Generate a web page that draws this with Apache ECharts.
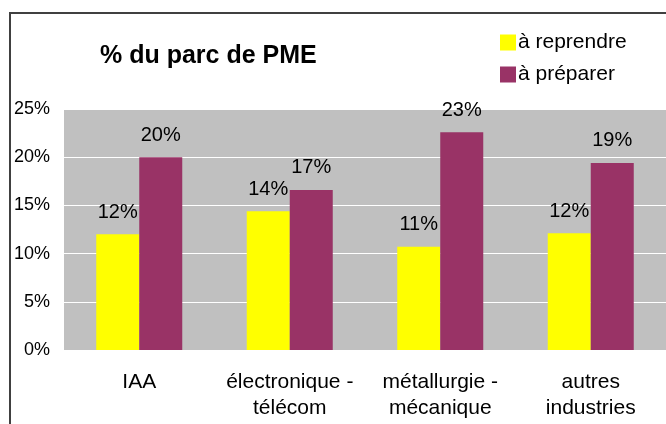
<!DOCTYPE html>
<html>
<head>
<meta charset="utf-8">
<script src="https://cdn.jsdelivr.net/npm/echarts@6/dist/echarts.min.js"></script>
<style>
  html, body { margin: 0; padding: 0; background: #ffffff; }
  #chart { width: 666px; height: 424px; }
</style>
</head>
<body>
<div id="chart"></div>
<script>
var categories = ['IAA', 'électronique -\ntélécom', 'métallurgie -\nmécanique', 'autres\nindustries'];
var aReprendre = [12.0, 14.4, 10.7, 12.1];
var aPreparer = [20.0, 16.6, 22.6, 19.4];
var seriesNames = ['à reprendre', 'à préparer'];
var yTicks = { min: 0, max: 25, interval: 5 };

var font = 'Liberation Sans, Arial, sans-serif';
var chart = echarts.init(document.getElementById('chart'), null, { renderer: 'canvas' });

function pct(p) {
  return Math.round(p.value) + '%';
}

var labelStyle = {
  show: true,
  position: 'top',
  distance: 12,
  color: '#000',
  fontFamily: font,
  fontSize: 20,
  formatter: pct
};

var option = {
  backgroundColor: '#ffffff',
  animation: false,
  color: ['#FFFF00', '#993366'],
  title: {
    text: '% du parc de PME',
    left: 100,
    top: 44,
    padding: 0,
    textStyle: {
      fontFamily: font,
      fontSize: 25,
      fontWeight: 'bold',
      color: '#000'
    }
  },
  legend: {
    orient: 'vertical',
    left: 500,
    top: 32,
    padding: 0,
    itemWidth: 16,
    itemHeight: 16,
    itemGap: 11,
    icon: 'rect',
    textStyle: {
      fontFamily: font,
      fontSize: 21,
      color: '#000',
      padding: [0, 0, 0, -3]
    },
    data: seriesNames
  },
  graphic: [{
    type: 'rect',
    silent: true,
    z: 100,
    shape: { x: 10, y: 13, width: 700, height: 500 },
    style: { fill: 'transparent', stroke: '#404040', lineWidth: 2 }
  }],
  grid: {
    left: 64,
    right: 0,
    top: 109,
    bottom: 74,
    show: true,
    backgroundColor: '#C0C0C0',
    borderWidth: 0
  },
  xAxis: {
    type: 'category',
    data: categories,
    axisLine: { show: false },
    axisTick: { show: false },
    axisLabel: {
      color: '#000',
      fontFamily: font,
      fontSize: 21,
      lineHeight: 26,
      margin: 19,
      interval: 0
    }
  },
  yAxis: {
    type: 'value',
    min: yTicks.min,
    max: yTicks.max,
    interval: yTicks.interval,
    axisLine: { show: false },
    axisTick: { show: false },
    splitLine: { lineStyle: { color: '#ffffff', width: 1 } },
    axisLabel: {
      color: '#000',
      fontFamily: font,
      fontSize: 18,
      margin: 14,
      formatter: '{value}%'
    }
  },
  series: [{
    name: seriesNames[0],
    type: 'bar',
    barWidth: 43,
    barGap: '0%',
    data: aReprendre,
    label: labelStyle
  }, {
    name: seriesNames[1],
    type: 'bar',
    barWidth: 43,
    barGap: '0%',
    data: aPreparer,
    label: labelStyle
  }]
};

chart.setOption(option);
</script>
</body>
</html>
